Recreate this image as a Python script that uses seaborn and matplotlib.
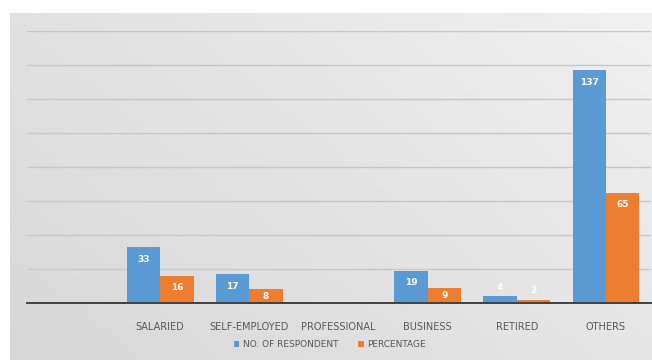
import numpy as np
import pandas as pd
import matplotlib
matplotlib.use("Agg")
import matplotlib.pyplot as plt
import seaborn as sns

categories = ["", "SALARIED", "SELF-EMPLOYED", "PROFESSIONAL", "BUSINESS", "RETIRED", "OTHERS"]
respondents = [0, 33, 17, 0, 19, 4, 137]
percentage = [0, 16, 8, 0, 9, 2, 65]
series_names = ["NO. OF RESPONDENT", "PERCENTAGE"]
colors = ["#5B9BD5", "#ED7D31"]

df = pd.DataFrame({
    "category": categories * 2,
    "value": respondents + percentage,
    "series": [series_names[0]] * len(categories) + [series_names[1]] * len(categories),
})

sns.set_theme(style="white")
plt.rcParams["font.family"] = ["Liberation Sans Narrow", "DejaVu Sans"]

fig = plt.figure(figsize=(6.52, 3.6), dpi=100)
fig.patch.set_facecolor("white")

# soft gray gradient panel behind the chart
bg = fig.add_axes([10 / 652, 0, 642 / 652, 1 - 13 / 360], zorder=0)
gx = np.linspace(0, 1, 200)
gy = np.linspace(0, 1, 120)
X, Y = np.meshgrid(gx, gy)
shade = 0.84 + 0.06 * X + 0.04 * (1 - Y)
bg.imshow(shade, cmap="gray", vmin=0, vmax=1, aspect="auto", extent=[0, 1, 0, 1],
          interpolation="bilinear")
bg.set_axis_off()

ax = fig.add_axes([26.5 / 652, 1 - 303 / 360, 624 / 652, (303 - 31) / 360], zorder=1)
ax.patch.set_alpha(0)

sns.barplot(data=df, x="category", y="value", hue="series", order=categories,
            hue_order=series_names, palette=colors, width=0.75, saturation=1,
            edgecolor="none", linewidth=0, ax=ax, legend=True)

ax.set_ylim(0, 160)
ax.set_yticks(np.arange(20, 161, 20))
ax.yaxis.grid(True, color="#c8c8c8", linewidth=1)
ax.set_axisbelow(True)
ax.tick_params(axis="y", left=False, labelleft=False)
ax.tick_params(axis="x", bottom=False, labelsize=7, colors="#595959", pad=8)
for s in ["top", "right", "left"]:
    ax.spines[s].set_visible(False)
ax.spines["bottom"].set_color("#404040")
ax.spines["bottom"].set_linewidth(1.4)
ax.set_xlabel("")
ax.set_ylabel("")

# value labels: near the bar top, centred in short bars, above the tiny ones
for cont in ax.containers:
    vals = cont.datavalues
    top = [f"{int(v)}" if v >= 12 else "" for v in vals]
    mid = [f"{int(v)}" if 6 <= v < 12 else "" for v in vals]
    above = [f"{int(v)}" if 0 < v < 6 else "" for v in vals]
    ax.bar_label(cont, labels=top, padding=-12, color="white", fontsize=6.5,
                 fontweight="bold")
    ax.bar_label(cont, labels=mid, label_type="center", color="white", fontsize=6.5,
                 fontweight="bold")
    ax.bar_label(cont, labels=above, padding=3, color="white", fontsize=6.5,
                 fontweight="bold")

handles, labs = ax.get_legend_handles_labels()
ax.legend_.remove()
fig.legend(handles, labs, loc="center", bbox_to_anchor=(0.506, 0.042), ncol=2,
           frameon=False, fontsize=6.5, handlelength=0.6, handleheight=0.6,
           columnspacing=2.2, handletextpad=0.4, labelcolor="#595959")

fig.savefig("out.png", dpi=100, facecolor=fig.get_facecolor())
